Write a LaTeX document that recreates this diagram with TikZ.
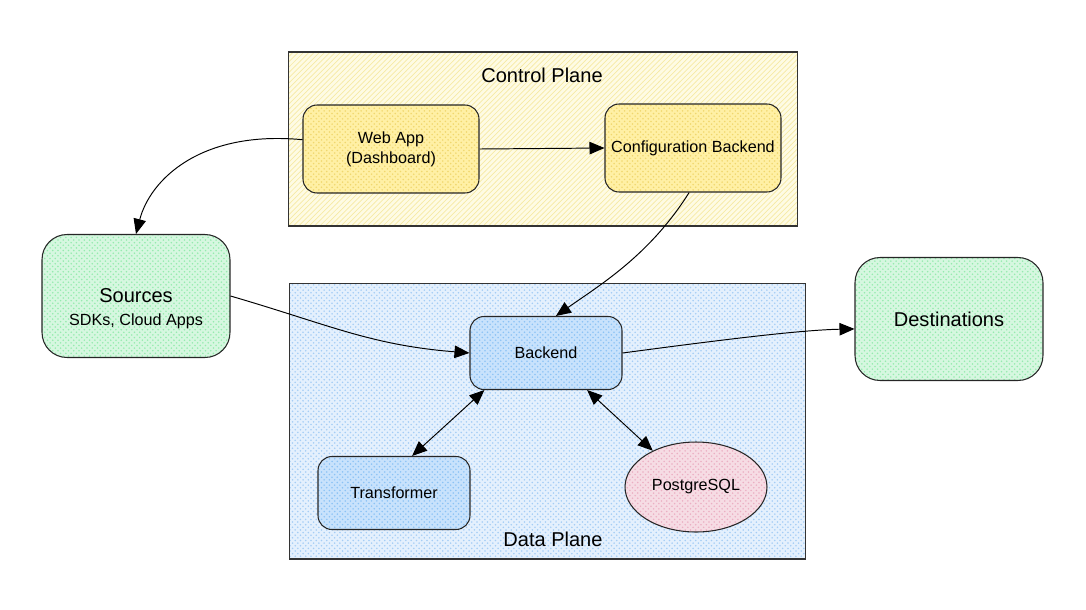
\documentclass[tikz,border=0pt]{standalone}
\usepackage{fontspec}
\setmainfont{Liberation Sans}
\usetikzlibrary{arrows.meta,positioning,patterns,shapes.geometric}
\definecolor{cpfill}{RGB}{254,251,228}
\definecolor{cpline}{RGB}{246,234,165}
\definecolor{dpfill}{RGB}{228,240,253}
\definecolor{dpline}{RGB}{165,205,245}
\definecolor{ynode}{RGB}{255,240,165}
\definecolor{ynodeline}{RGB}{240,215,110}
\definecolor{bnode}{RGB}{200,226,252}
\definecolor{bnodeline}{RGB}{140,195,245}
\definecolor{gnode}{RGB}{214,247,224}
\definecolor{gnodeline}{RGB}{150,235,175}
\definecolor{pnode}{RGB}{246,220,228}
\definecolor{pnodeline}{RGB}{235,175,195}
\tikzset{
  bigfont/.style={font=\fontsize{11.4}{13}\selectfont},
  smallfont/.style={font=\fontsize{9.2}{11.5}\selectfont},
  planebox/.style={draw=black!80, line width=0.6pt, minimum width=#1},
  cplane/.style={planebox=10.2cm, minimum height=3.48cm, preaction={fill=cpfill}, pattern=north east lines, pattern color=cpline},
  dplane/.style={planebox=10.34cm, minimum height=5.52cm, preaction={fill=dpfill}, pattern=crosshatch dots, pattern color=dpline},
  compbox/.style={draw=black!85, line width=0.6pt, rounded corners=0.28cm, align=center, smallfont},
  yellowbox/.style={compbox, preaction={fill=ynode}, pattern=crosshatch dots, pattern color=ynodeline, minimum width=3.52cm, minimum height=1.76cm},
  bluebox/.style={compbox, preaction={fill=bnode}, pattern=crosshatch dots, pattern color=bnodeline, minimum width=3.04cm, minimum height=1.46cm},
  greenbox/.style={draw=black!85, line width=0.6pt, rounded corners=0.5cm, align=center, preaction={fill=gnode}, pattern=crosshatch dots, pattern color=gnodeline, minimum width=3.76cm, minimum height=2.46cm},
  dbellipse/.style={ellipse, draw=black!85, line width=0.6pt, preaction={fill=pnode}, pattern=crosshatch dots, pattern color=pnodeline, minimum width=2.84cm, minimum height=1.8cm, inner sep=0pt, smallfont},
  flowarrow/.style={-{Triangle[length=3mm,width=2.5mm]}, line width=0.55pt},
  bothflow/.style={{Triangle[length=3mm,width=2.5mm]}-{Triangle[length=3mm,width=2.5mm]}, line width=0.55pt}
}
\begin{document}
\begin{tikzpicture}[x=0.02cm,y=-0.02cm]
\useasboundingbox (0,0) rectangle (1086,609);
% planes
\node[cplane] (control) at (543,139) {};
\node[bigfont] (cplabel) at (542,75) {Control Plane};
\node[dplane] (data) at (547.5,421) {};
\node[bigfont] (dplabel) at (553,539) {Data Plane};
% components
\node[yellowbox] (webapp) at (391,149) {Web App\\(Dashboard)};
\node[yellowbox] (config) at (693,148) {Configuration Backend};
\node[bluebox] (backend) at (546,353) {Backend};
\node[bluebox] (transformer) at (394,493) {Transformer};
\node[dbellipse] (postgres) at (696,487) {PostgreSQL};
\node[greenbox] (sources) at (136,296) {};
\node[align=center] (sourcestext) at (136,309) {{\fontsize{11.4}{13}\selectfont Sources}\\[1pt]{\fontsize{9.2}{11}\selectfont SDKs, Cloud Apps}};
\node[greenbox, bigfont] (dest) at (949,319) {Destinations};
% connectors
\draw[flowarrow] (webapp.174) .. controls (200,130) and (150,180) .. (sources.north);
\draw[flowarrow] (webapp.east) -- (config.west);
\draw[flowarrow] (config.265) .. controls (650,255) and (600,285) .. (backend.75);
\draw[flowarrow] (sources.east) .. controls (330,325) and (370,345) .. (backend.west);
\draw[flowarrow] (backend.east) .. controls (720,340) and (800,330) .. (dest.186);
\draw[bothflow] (backend.211) -- (transformer.64);
\draw[bothflow] (backend.318) -- (postgres.140);
\end{tikzpicture}
\end{document}
